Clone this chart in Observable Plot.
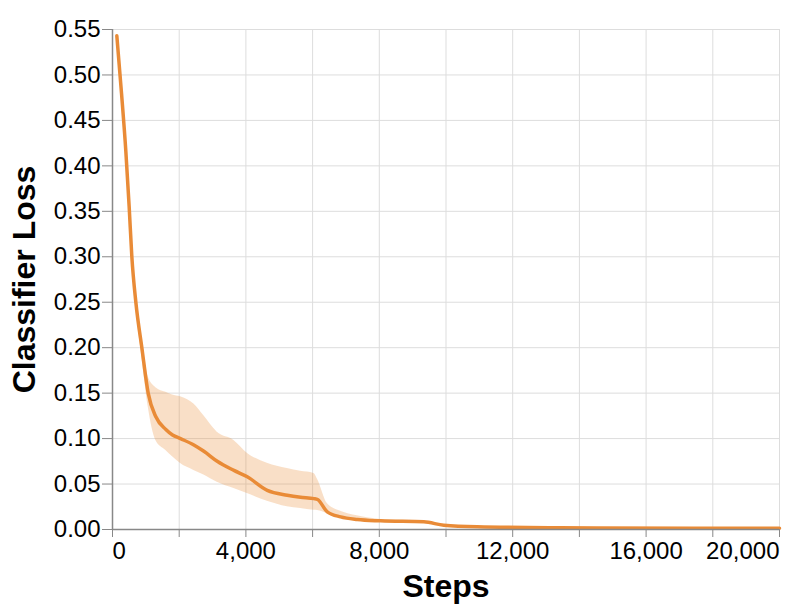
<!DOCTYPE html>
<html>
<head>
<meta charset="utf-8">
<script src="https://cdn.jsdelivr.net/npm/d3@7"></script>
<script src="https://cdn.jsdelivr.net/npm/@observablehq/plot@0.6"></script>
<style>
  html, body { margin: 0; padding: 0; background: #fff; }
</style>
</head>
<body>
<div id="chart"></div>
<script>
const steps = [130, 270, 400, 500, 580, 700, 880, 1070, 1300, 1600, 1800, 2040, 2440, 2740, 3140, 3640, 4040, 4640, 5240, 5640, 6040, 6150, 6440, 6840, 7340, 8040, 9335, 9935, 10935, 13430, 17430, 20000];
const loss = [0.543, 0.48, 0.416, 0.355, 0.30, 0.25, 0.20, 0.15, 0.124, 0.110, 0.104, 0.100, 0.093, 0.086, 0.075, 0.065, 0.058, 0.043, 0.0377, 0.0355, 0.034, 0.033, 0.0194, 0.0139, 0.011, 0.0095, 0.0084, 0.0047, 0.0029, 0.0019, 0.0014, 0.0013];
const upper = [0.545, 0.482, 0.42, 0.36, 0.305, 0.256, 0.21, 0.168, 0.156, 0.151, 0.148, 0.146, 0.138, 0.125, 0.107, 0.098, 0.084, 0.073, 0.067, 0.064, 0.0616, 0.055, 0.0286, 0.020, 0.015, 0.011, 0.0092, 0.0052, 0.0032, 0.0021, 0.0015, 0.0014];
const lower = [0.541, 0.478, 0.412, 0.35, 0.295, 0.244, 0.19, 0.135, 0.098, 0.087, 0.080, 0.0726, 0.065, 0.060, 0.052, 0.045, 0.0396, 0.031, 0.025, 0.0231, 0.0212, 0.021, 0.0176, 0.013, 0.011, 0.0085, 0.0078, 0.0043, 0.0027, 0.0017, 0.0013, 0.0012];

const xTicks = [0, 2000, 4000, 6000, 8000, 10000, 12000, 14000, 16000, 18000, 20000];
const xLabelTicks = [4000, 8000, 12000, 16000];
const yTicks = [0, 0.05, 0.10, 0.15, 0.20, 0.25, 0.30, 0.35, 0.40, 0.45, 0.50, 0.55];
const xTitle = "Steps";
const yTitle = "Classifier Loss";

const data = steps.map((s, i) => ({step: s, loss: loss[i], lower: lower[i], upper: upper[i]}));
const orange = "#e98b37";
const fmtX = d3.format(",");

const chart = Plot.plot({
  width: 788,
  height: 612,
  marginLeft: 112,
  marginRight: 9,
  marginTop: 29,
  marginBottom: 83,
  style: {fontFamily: "'Liberation Sans', Arial, Helvetica, sans-serif", background: "#fff", color: "#000"},
  x: {domain: [0, 20000]},
  y: {domain: [0, 0.55]},
  marks: [
    Plot.gridY(yTicks, {stroke: "#ddd", strokeOpacity: 1, strokeWidth: 1}),
    Plot.gridX(xTicks, {stroke: "#ddd", strokeOpacity: 1, strokeWidth: 1}),
    Plot.areaY(data, {x: "step", y1: "lower", y2: "upper", fill: orange, fillOpacity: 0.28, curve: "monotone-x"}),
    Plot.lineY(data, {x: "step", y: "loss", stroke: orange, strokeWidth: 3.5, curve: "monotone-x"}),
    Plot.ruleX([0], {stroke: "#888", strokeWidth: 1.5}),
    Plot.ruleY([0], {stroke: "#888", strokeWidth: 1.5}),
    Plot.axisY(yTicks, {tickFormat: d3.format(".2f"), fontSize: 24, tickSize: 10, tickPadding: 2, stroke: "#888", fill: "#000", label: null}),
    Plot.axisX(xTicks, {tickFormat: d => xLabelTicks.includes(d) ? fmtX(d) : "", fontSize: 24, tickSize: 8, tickPadding: 4, stroke: "#888", fill: "#000", label: null}),
    Plot.axisX([xTicks[0]], {tickFormat: fmtX, textAnchor: "start", fontSize: 24, tickSize: 8, tickPadding: 4, stroke: "#888", fill: "#000", label: null}),
    Plot.axisX([xTicks[xTicks.length - 1]], {tickFormat: fmtX, textAnchor: "end", fontSize: 24, tickSize: 8, tickPadding: 4, stroke: "#888", fill: "#000", label: null}),
    Plot.text([xTitle], {frameAnchor: "bottom", textAnchor: "middle", dy: 67, fontSize: 32, fontWeight: "bold", fill: "#000"}),
    Plot.text([yTitle], {frameAnchor: "left", textAnchor: "middle", rotate: -90, dx: -88, fontSize: 32, fontWeight: "bold", fill: "#000"})
  ]
});
document.getElementById("chart").appendChild(chart);
</script>
</body>
</html>
